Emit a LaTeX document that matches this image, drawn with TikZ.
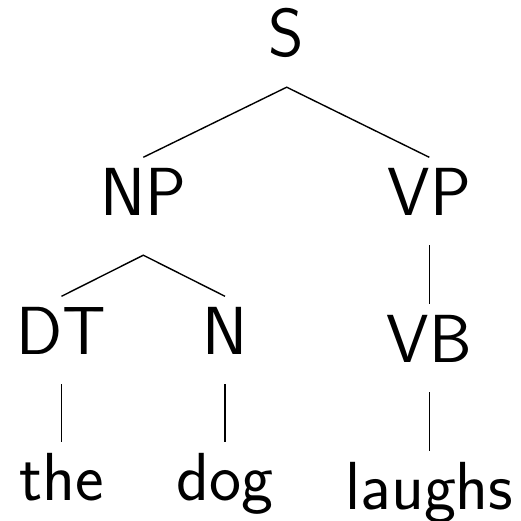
\documentclass[tikz,border=0pt]{standalone}
\usepackage{fontspec}
\begin{document}
\begin{tikzpicture}[x=1pt,y=-1pt,
  lbl/.style={inner sep=0pt, anchor=base, text height=57.5pt, text depth=30pt,
    font=\sffamily\fontsize{68pt}{80pt}\selectfont},
  edge/.style={line width=1.4pt, black}]
\useasboundingbox (0,0) rectangle (521,521);
\node[lbl] (S) at (286.7,57) {S};
\node[lbl, text depth=40pt] (NP) at (143.3,215) {NP};
\node[lbl] (VP) at (429.3,215) {VP};
\node[lbl] (DT) at (61.5,354) {DT};
\node[lbl] (N) at (225,354) {N};
\node[lbl] (VB) at (429.3,362) {VB};
\node[lbl] (the) at (61.5,500) {the};
\node[lbl] (dog) at (225,500) {dog};
\node[lbl] (laughs) at (429.3,509) {laughs};
\draw[edge] (NP.north) -- (S.south) -- (VP.north);
\draw[edge] (DT.north) -- (NP.south) -- (N.north);
\draw[edge] (VP.south) -- (VB.north);
\draw[edge] (DT.south) -- (the.north);
\draw[edge] (N.south) -- (dog.north);
\draw[edge] (VB.south) -- (laughs.north);
\end{tikzpicture}
\end{document}
